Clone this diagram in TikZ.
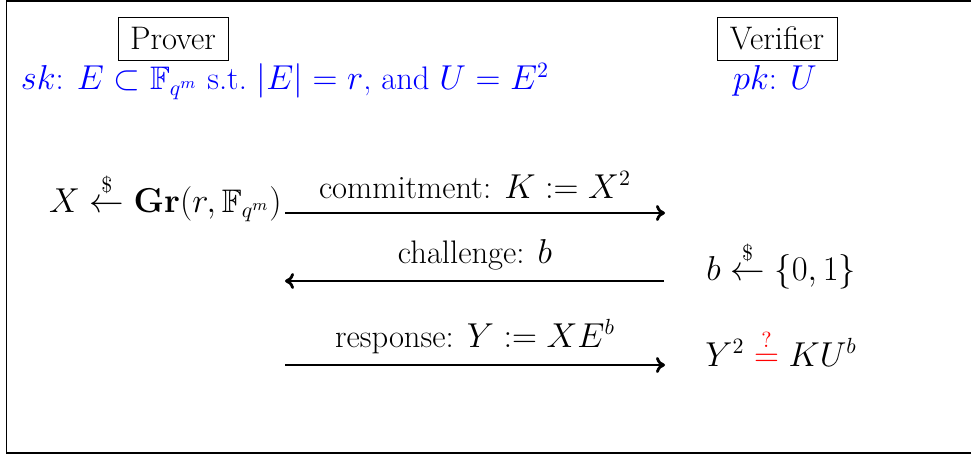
\documentclass[tikz,border=0pt]{standalone}
\usepackage{amsmath,amssymb}
\usetikzlibrary{arrows.meta}
\begin{document}
\begin{tikzpicture}[x=0.5pt,y=-0.5pt,
  font=\fontsize{16.3}{20}\selectfont,
  party/.style={draw, line width=0.5pt, minimum height=21.5pt, inner sep=0pt},
  txt/.style={inner sep=0pt},
  msg/.style={-{To[length=4.5pt,width=8pt]}, line width=1.4pt}]
\useasboundingbox (0,0) rectangle (971,455);
\draw[line width=0.6pt] (6.5,1) rectangle (990,453);
% parties
\node[party, minimum width=55pt] (prover) at (173,38.5) {Prover};
\node[party, minimum width=60pt] (verifier) at (777,38.5) {Verifier};
\node[txt, blue, anchor=base] (sk) at (285,90) {$sk$: $E\subset\mathbb{F}_{q^m}$ s.t.\ $|E|=r$, and $U=E^2$};
\node[txt, blue, anchor=base] (pk) at (775,90) {$pk$: $U$};
% prover side
\node[txt, anchor=base east] (gr) at (282,212) {$X\stackrel{\$}{\leftarrow}\mathbf{Gr}(r,\mathbb{F}_{q^m})$};
% verifier side
\node[txt, anchor=base west] (bsel) at (706,280) {$b\stackrel{\$}{\leftarrow}\{0,1\}$};
\node[txt, anchor=base west] (check) at (705,366) {$Y^2\mathrel{\textcolor{red}{\stackrel{?}{=}}}KU^b$};
% arrow end points
\coordinate (c1s) at (285,213);
\coordinate (c1e) at (665,213);
\coordinate (c2s) at (664,281);
\coordinate (c2e) at (285,281);
\coordinate (c3s) at (285,365);
\coordinate (c3e) at (665,365);
\draw[msg] (c1s) -- (c1e);
\draw[msg] (c2s) -- (c2e);
\draw[msg] (c3s) -- (c3e);
% labels
\node[txt, anchor=base] (l1) at (475,198) {commitment: $K:=X^2$};
\node[txt, anchor=base] (l2) at (475,263) {challenge: $b$};
\node[txt, anchor=base] (l3) at (475,347) {response: $Y:=XE^b$};
\end{tikzpicture}
\end{document}
